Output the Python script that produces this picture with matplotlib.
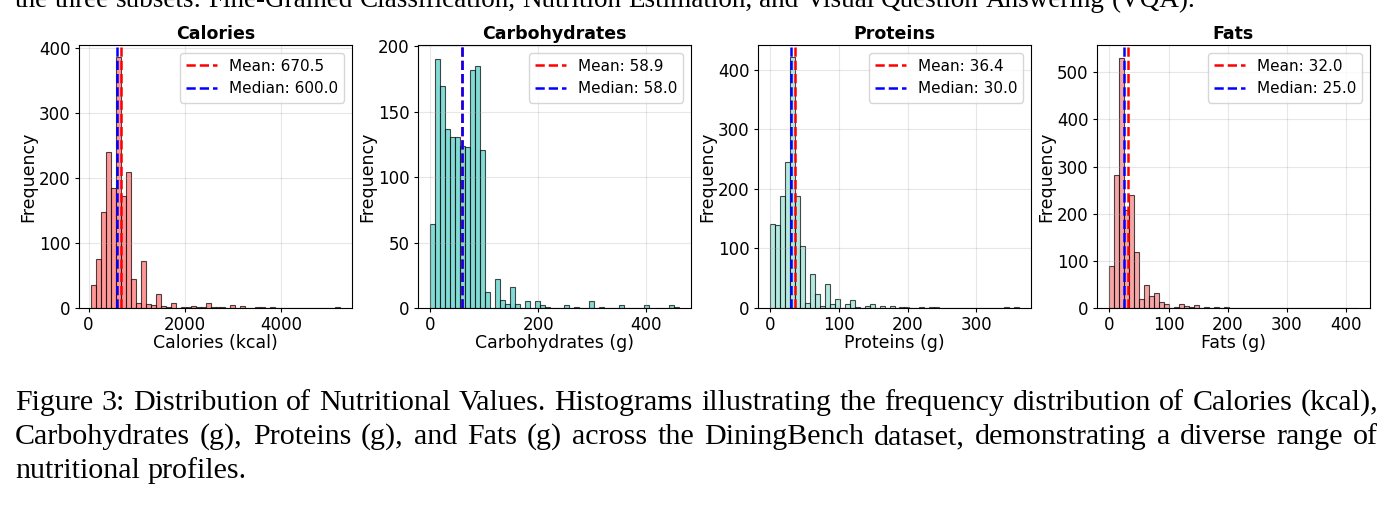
import matplotlib
matplotlib.use('Agg')
import matplotlib.pyplot as plt
import numpy as np

# panel setup
titles = ['Calories', 'Carbohydrates', 'Proteins', 'Fats']
xlabels = ['Calories (kcal)', 'Carbohydrates (g)', 'Proteins (g)', 'Fats (g)']
colors = ['#FF6B6B', '#4ECDC4', '#95E1D3', '#F38181']
bin_ranges = [(60, 5210), (0, 460), (0, 362), (0, 420)]
means = [670.5, 58.9, 36.4, 32.0]
medians = [600.0, 58.0, 30.0, 25.0]
xticks = [[0, 2000, 4000], [0, 200, 400], [0, 100, 200, 300], [0, 100, 200, 300, 400]]
yticks = [[0, 100, 200, 300, 400], [0, 50, 100, 150, 200],
          [0, 100, 200, 300, 400], [0, 100, 200, 300, 400, 500]]
ytops = [404, 201, 442, 558]

# bin counts (50 bins each)
calories_counts = [36, 76, 147, 240, 185, 385, 172, 209, 44, 8,
                   72, 6, 5, 21, 3, 1, 7, 0, 1, 2,
                   3, 2, 1, 8, 1, 1, 1, 0, 4, 0,
                   3, 0, 0, 2, 1, 0, 2, 0, 0, 0,
                   0, 0, 0, 0, 0, 0, 0, 0, 0, 1]
carbs_counts = [64, 190, 170, 137, 131, 131, 124, 123, 182, 185,
                121, 12, 0, 22, 6, 3, 16, 3, 0, 5,
                0, 5, 2, 1, 0, 0, 0, 2, 0, 1,
                0, 0, 5, 0, 1, 0, 0, 0, 2, 0,
                0, 0, 0, 2, 0, 0, 0, 0, 2, 1]
proteins_counts = [141, 139, 189, 245, 421, 189, 104, 9, 57, 24,
                   3, 40, 7, 15, 0, 6, 14, 2, 0, 4,
                   7, 0, 4, 0, 4, 0, 1, 2, 0, 0,
                   2, 0, 1, 2, 0, 0, 0, 0, 0, 0,
                   0, 0, 0, 0, 0, 0, 0, 1, 0, 1]
fats_counts = [90, 283, 530, 207, 239, 118, 19, 48, 26, 31,
               13, 8, 0, 3, 8, 5, 2, 7, 1, 2,
               1, 3, 0, 2, 0, 1, 1, 0, 0, 0,
               0, 0, 0, 0, 0, 0, 1, 0, 0, 0,
               0, 0, 0, 0, 0, 0, 0, 0, 0, 1]
all_counts = [calories_counts, carbs_counts, proteins_counts, fats_counts]

top_line = ("the three subsets: Fine-Grained Classification, Nutrition Estimation, "
            "and Visual Question Answering (VQA).")
caption_lines = [
    "Figure 3: Distribution of Nutritional Values. Histograms illustrating the frequency distribution of Calories (kcal),",
    "Carbohydrates (g), Proteins (g), and Fats (g) across the DiningBench dataset, demonstrating a diverse range of",
    "nutritional profiles.",
]

W, H = 1395, 507
fig = plt.figure(figsize=(W / 100, H / 100), dpi=100)

lefts = [79, 418, 758, 1097]
for i in range(4):
    ax = fig.add_axes([lefts[i] / W, (H - 308) / H, 273 / W, 263 / H])
    lo, hi = bin_ranges[i]
    counts = np.array(all_counts[i])
    edges = np.linspace(lo, hi, len(counts) + 1)
    centers = (edges[:-1] + edges[1:]) / 2
    ax.hist(centers, bins=edges, weights=counts, color=colors[i], alpha=0.7,
            edgecolor='black', linewidth=0.8)
    ax.axvline(means[i], color='red', linestyle='--', linewidth=1.8,
               label=f'Mean: {means[i]:.1f}')
    ax.axvline(medians[i], color='blue', linestyle='--', linewidth=1.8,
               label=f'Median: {medians[i]:.1f}')
    ax.set_title(titles[i], fontsize=12.5, fontweight='bold', pad=4)
    ax.set_xlabel(xlabels[i], fontsize=12.5, labelpad=0)
    ax.set_ylabel('Frequency', fontsize=12.5, labelpad=1)
    ax.set_xticks(xticks[i])
    ax.set_yticks(yticks[i])
    ax.set_ylim(0, ytops[i])
    ax.tick_params(labelsize=12, length=3, pad=3)
    ax.legend(fontsize=11, loc='upper right')
    ax.grid(True, alpha=0.3)

# caption text below, justified like the paper
renderer = fig.canvas.get_renderer()
probe = fig.text(0, 0, caption_lines[0], family='Liberation Serif', fontsize=20)
cap_size = 20 * 1355 / probe.get_window_extent(renderer).width
probe.remove()


def put_line(text, y_px, size, x0=15, x1=1378, justify=True):
    style = dict(family='Liberation Serif', fontsize=size)
    words = text.split(' ')
    items = [fig.text(0, 1 - y_px / H, w, va='baseline', ha='left', **style) for w in words]
    widths = [t.get_window_extent(renderer).width for t in items]
    if justify and len(words) > 1:
        gap = (x1 - x0 - sum(widths)) / (len(words) - 1)
    else:
        a = fig.text(0, 0, 'a a', **style)
        b = fig.text(0, 0, 'aa', **style)
        gap = a.get_window_extent(renderer).width - b.get_window_extent(renderer).width
        a.remove()
        b.remove()
    x = x0
    for t, w in zip(items, widths):
        t.set_x(x / W)
        x += w + gap


put_line(top_line, 7, 19.5, justify=False)
put_line(caption_lines[0], 410, cap_size)
put_line(caption_lines[1], 444, cap_size)
put_line(caption_lines[2], 478, cap_size, justify=False)

fig.savefig('out.png', dpi=100)
